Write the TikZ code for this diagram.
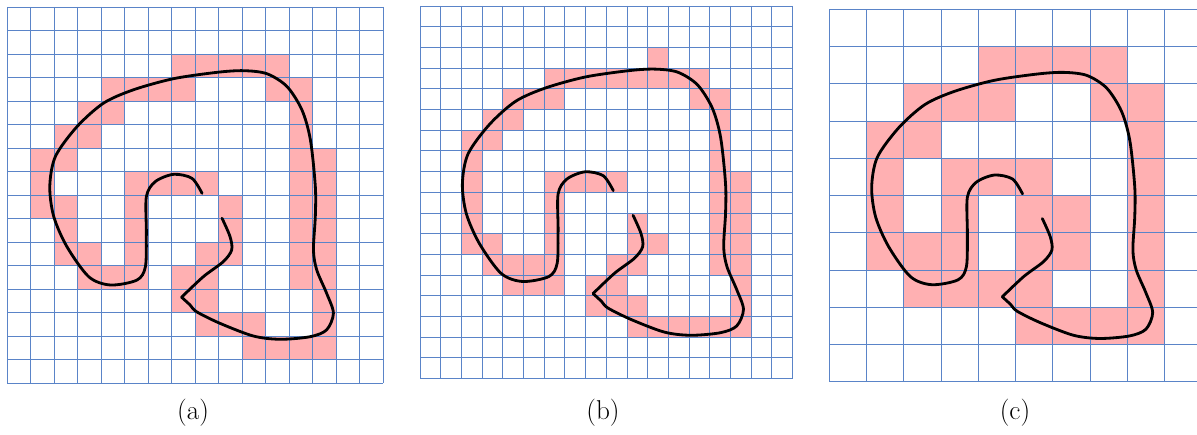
\documentclass[tikz,border=0pt]{standalone}
\usetikzlibrary{calc}

\definecolor{gridblue}{RGB}{90,132,200}
\definecolor{cellpink}{RGB}{255,176,178}

\tikzset{
  gridline/.style={gridblue, line width=0.5pt},
  cellfill/.style={fill=cellpink},
  loopline/.style={black, line width=1.6pt, line cap=round, line join=round},
  caption/.style={font=\fontsize{15.5}{18}\selectfont}
}

% the same closed-ish curve, in units of the 16x16 grid, y pointing down
\newcommand{\drawloop}{%
  \draw[loopline] plot[smooth] coordinates {(8.30,7.93) (7.87,7.29) (7.09,7.12) (6.31,7.43)
    (5.93,8.07) (5.93,9.63) (5.89,11.05) (5.53,11.62) (4.40,11.83) (3.48,11.48)
    (2.55,10.20) (1.99,8.92) (1.82,7.64) (2.06,6.36) (2.98,5.09) (4.11,4.09)
    (5.39,3.52) (7.09,3.05) (8.94,2.78) (10.07,2.71) (11.06,2.84) (11.91,3.38)
    (12.55,4.38) (12.91,5.65) (13.12,7.63) (13.12,8.91) (13.04,10.34) (13.18,11.19)
    (13.60,12.18) (13.89,13.03) (13.60,13.74) (12.90,14.03) (11.62,14.14)
    (10.48,14.00) (9.06,13.46) (8.07,12.97) (7.79,12.68) (7.43,12.35)};
  \draw[loopline] plot[smooth] coordinates {(7.43,12.35) (8.35,11.48) (9.20,10.84)
    (9.56,10.34) (9.49,9.77) (9.15,8.99)};
}

\begin{document}
\begin{tikzpicture}
  \useasboundingbox (0,0) rectangle (23.94,8.70);
  \clip (0,0) rectangle (23.94,8.70);

  % (a) 16x16
  \begin{scope}[shift={(0.14,8.56)}, x=0.47cm, y=-0.47cm]
    \foreach \r/\cols in {2/{7,8,9,10,11}, 3/{4,5,6,7,11,12}, 4/{3,4,12}, 5/{2,3,12},
        6/{1,2,12,13}, 7/{1,5,6,7,8,12,13}, 8/{1,2,5,9,12,13}, 9/{2,5,9,12,13},
        10/{2,3,5,8,9,12,13}, 11/{3,4,5,7,8,12,13}, 12/{7,8,13}, 13/{8,9,10,13},
        14/{10,11,12,13}}
      \foreach \c in \cols
        \fill[cellfill] (\c,\r) rectangle ++(1,1);
    \foreach \i in {0,...,16} {
      \draw[gridline] (\i,0) -- (\i,16);
      \draw[gridline] (0,\i) -- (16,\i);
    }
    \drawloop
  \end{scope}

  % (b) 18x18
  \begin{scope}[shift={(8.40,8.58)}, x=0.414cm, y=-0.414cm]
    \foreach \r/\cols in {2/{11}, 3/{6,7,8,9,10,11,12,13}, 4/{4,5,6,13,14}, 5/{3,4,14},
        6/{2,3,14}, 7/{2,14}, 8/{2,6,7,8,9,14,15}, 9/{2,6,14,15}, 10/{2,6,10,14,15},
        11/{2,3,6,10,11,14,15}, 12/{3,4,5,6,9,10,14,15}, 13/{4,5,6,8,9,15},
        14/{8,9,10,15}, 15/{10,11,12,13,14,15}}
      \foreach \c in \cols
        \fill[cellfill] (\c,\r) rectangle ++(1,1);
    \foreach \i in {0,...,18} {
      \draw[gridline] (\i,0) -- (\i,18);
      \draw[gridline] (0,\i) -- (18,\i);
    }
    \begin{scope}[scale=1.125]
      \drawloop
    \end{scope}
  \end{scope}

  % (c) 10x10
  \begin{scope}[shift={(16.586,8.514)}, x=0.745cm, y=-0.745cm]
    \foreach \r/\cols in {1/{4,5,6,7}, 2/{2,3,4,7,8}, 3/{1,2,8}, 4/{1,3,4,5,8},
        5/{1,3,5,6,8}, 6/{1,2,3,5,6,8}, 7/{2,3,4,5,8}, 8/{5,6,7,8}}
      \foreach \c in \cols
        \fill[cellfill] (\c,\r) rectangle ++(1,1);
    \foreach \i in {0,...,10} {
      \draw[gridline] (\i,0) -- (\i,10);
      \draw[gridline] (0,\i) -- (10,\i);
    }
    \begin{scope}[scale=0.625]
      \drawloop
    \end{scope}
  \end{scope}

  \node[caption] (capa) at (3.86,0.44) {(a)};
  \node[caption] (capb) at (12.06,0.44) {(b)};
  \node[caption] (capc) at (20.30,0.44) {(c)};
\end{tikzpicture}
\end{document}
